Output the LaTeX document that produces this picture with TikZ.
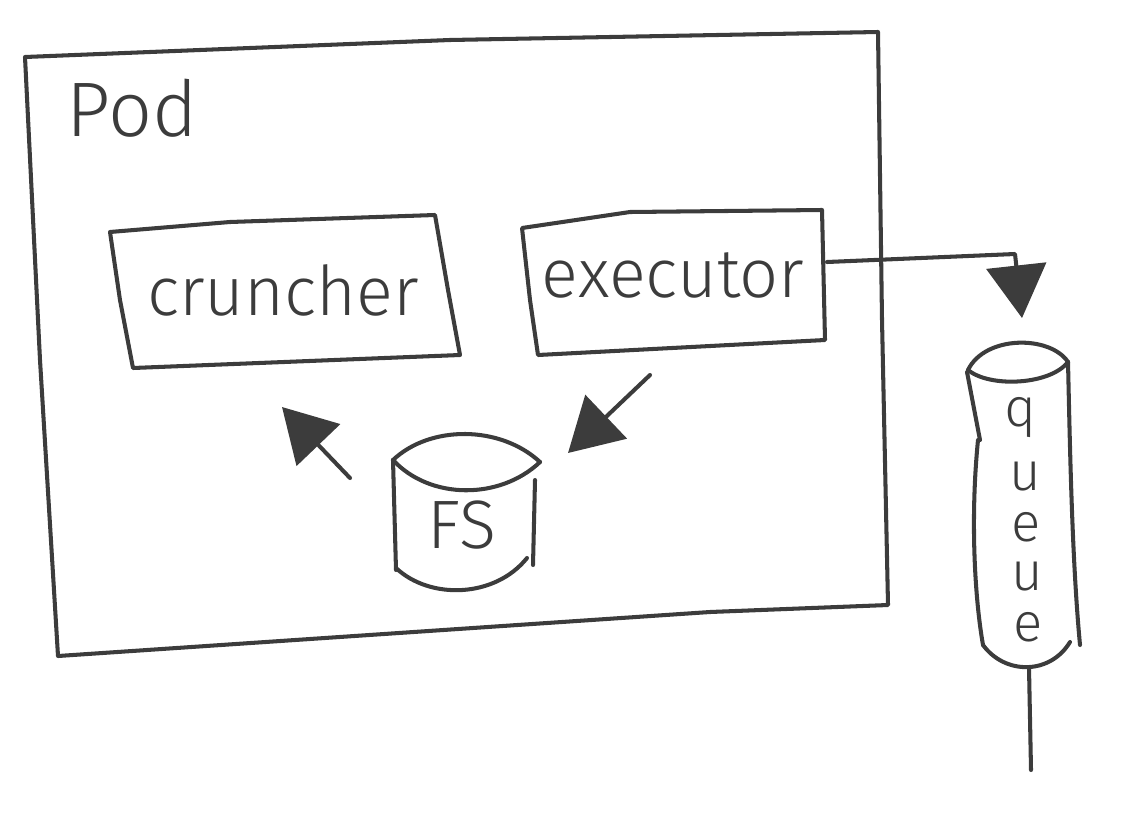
\documentclass[tikz,border=0pt]{standalone}
\usepackage{fontspec}
\setmainfont{Fira Sans Light}[UprightFont=*, BoldFont=Fira Sans]
\usetikzlibrary{arrows.meta}
\definecolor{ink}{HTML}{3C3C3C}
\tikzset{
  pen/.style={draw=ink, line width=2.3pt, line cap=round, line join=round},
  lbl/.style={text=ink, font=\fontsize{39}{44}\selectfont, inner sep=0pt},
  qlbl/.style={text=ink, font=\fontsize{31}{34}\selectfont, inner sep=0pt},
  arr/.style={pen, -{Triangle[length=30pt,width=34pt]}},
}
\begin{document}
\begin{tikzpicture}[x=0.02cm, y=-0.02cm]
\useasboundingbox (0,0) rectangle (1148,818);
% Pod frame
\draw[pen] (25,57) -- (450,40) -- (878,32) -- (882,320) -- (888,605) -- (710,612) -- (58,656) -- (40,360) -- cycle;
\node[lbl, font=\fontsize{44}{48}\selectfont, anchor=west] (pod) at (66,108) {Pod};
% cruncher box
\draw[pen] (110,232) -- (230,222) -- (435,215) -- (448,290) -- (460,355) -- (133,368) -- (120,300) -- cycle;
\node[lbl] (cruncher) at (283,290) {cruncher};
% executor box
\draw[pen] (522,228) -- (630,212) -- (822,210) -- (825,340) -- (538,355) -- (530,300) -- cycle;
\node[lbl] (executor) at (673,275) {executor};
% FS cylinder
\draw[pen] (393,460) .. controls (430,425) and (500,425) .. (540,462);
\draw[pen] (393,460) .. controls (430,500) and (500,500) .. (540,462);
\draw[pen] (393,460) -- (396,570);
\draw[pen] (535,480) -- (533,565);
\draw[pen] (396,568) .. controls (430,600) and (495,598) .. (527,558);
\node[lbl] (fs) at (462,525) {FS};
% queue cylinder
\draw[pen] (968,370) .. controls (985,335) and (1050,335) .. (1068,362);
\draw[pen] (968,370) .. controls (990,388) and (1050,385) .. (1068,362);
\draw[pen] (967,372) -- (980,440);
\draw[pen] (978,440) .. controls (970,520) and (975,600) .. (983,645);
\draw[pen] (1068,362) .. controls (1070,450) and (1072,560) .. (1080,645);
\draw[pen] (983,645) .. controls (1005,675) and (1050,675) .. (1070,642);
\node[qlbl] (q1) at (1020,418) {q};
\node[qlbl] (q2) at (1025,477) {u};
\node[qlbl] (q3) at (1026,527) {e};
\node[qlbl] (q4) at (1027,577) {u};
\node[qlbl] (q5) at (1028,627) {e};
% connectors
\coordinate (exR) at (827,262);
\coordinate (bend) at (1015,254);
\coordinate (qTop) at (1022,318);
\draw[arr] (exR) -- (bend) -- (qTop);
\coordinate (qBot) at (1029,668);
\coordinate (qEnd) at (1031,770);
\draw[pen] (qBot) -- (qEnd);
\coordinate (exS) at (650,375);
\coordinate (fsT) at (568,453);
\draw[arr] (exS) -- (fsT);
\coordinate (fsS) at (350,478);
\coordinate (crT) at (282,407);
\draw[arr] (fsS) -- (crT);
\end{tikzpicture}
\end{document}
